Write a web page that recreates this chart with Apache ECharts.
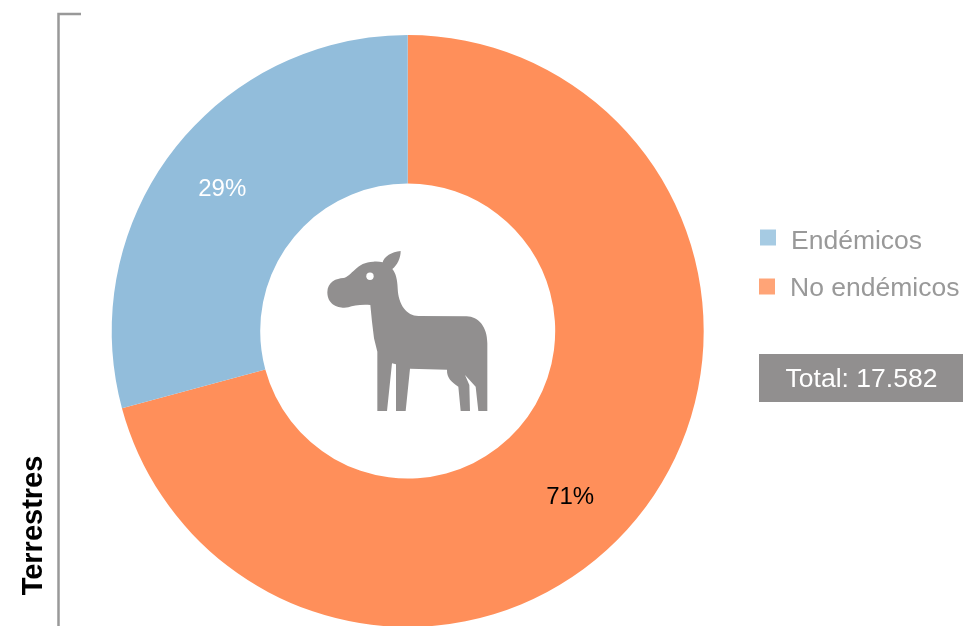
<!DOCTYPE html>
<html>
<head>
<meta charset="utf-8">
<style>html,body{margin:0;padding:0;background:#fff}#c{width:963px;height:626px}</style>
<script src="https://cdn.jsdelivr.net/npm/echarts@6/dist/echarts.min.js"></script>
</head>
<body>
<div id="c"></div>
<script>
const categories = ['No endémicos', 'Endémicos'];
const values = [70.8, 29.2];
const sliceColors = ['#ff8f5a', '#92bddb'];
const swatchColors = ['#ffa477', '#a6cbe3'];
const labelColors = ['#000000', '#ffffff'];
const labelShift = [[-16, 30], [-7, -5]];
const groupTitle = 'Terrestres';
const totalText = 'Total: 17.582';
const font = '"Liberation Sans", Arial, sans-serif';
const horse = 'M202 528L202 350L192 310L186 260L181 210C150 208 130 212 115 217C95 222 52 215 52 172C52 140 80 130 100 129C125 125 140 80 190 80C200 79 210 80 218 82C222 65 245 50 272 48C272 70 262 90 247 102C258 115 262 135 263 160C265 210 290 243 325 243L470 244C505 245 532 275 532 325L532 528L505 528L497 455L465 420L478 450L480 528L452 528L445 455C425 440 410 430 411 404L300 401L287 528L258 528L258 388L246 385L231 528Z';

echarts.graphic.registerShape('horse', echarts.graphic.extendPath(horse, {}));

const chart = echarts.init(document.getElementById('c'), null, {renderer: 'canvas'});
const legendAt = (i, left, top, pad) => ({
  left, top, padding: 0, orient: 'vertical', icon: 'rect', itemWidth: 16, itemHeight: 16, itemGap: 0,
  selectedMode: false,
  formatter: n => '{t|' + n + '}',
  textStyle: {
    rich: {t: {fontFamily: font, fontSize: 26.5, color: '#999999', padding: [pad, 0, 0, 10]}}
  },
  data: [{name: categories[i], itemStyle: {color: swatchColors[i]}}]
});
chart.setOption({
  animation: false,
  backgroundColor: '#ffffff',
  legend: [legendAt(1, 760, 228, 8), legendAt(0, 759, 275, 4)],
  series: [{
    type: 'pie',
    center: [407.7, 331],
    radius: [147.5, 296],
    startAngle: 90,
    clockwise: true,
    silent: true,
    label: {position: 'inside', formatter: '{d}%', fontFamily: font, fontSize: 24},
    labelLine: {show: false},
    percentPrecision: 0,
    labelLayout: p => ({dx: labelShift[p.dataIndex][0], dy: labelShift[p.dataIndex][1]}),
    data: categories.map((name, i) => ({
      name, value: values[i],
      itemStyle: {color: sliceColors[i]},
      label: {color: labelColors[i]}
    }))
  }],
  graphic: [
    {type: 'polyline', silent: true, shape: {points: [[81, 14], [58.5, 14], [58.5, 626]]},
     style: {stroke: '#999999', lineWidth: 2.5, fill: null}},
    {type: 'text', silent: true, x: 33.5, y: 525.5, rotation: Math.PI / 2,
     style: {text: groupTitle, font: 'bold 29px ' + font, fill: '#000000', align: 'center', verticalAlign: 'middle'}},
    {type: 'horse', silent: true, x: 310, y: 235, scaleX: 1 / 3, scaleY: 1 / 3, style: {fill: '#918f8f'}},
    {type: 'circle', silent: true, shape: {cx: 370, cy: 276.3, r: 3.7}, style: {fill: '#ffffff'}},
    {type: 'rect', silent: true, shape: {x: 759, y: 354, width: 204, height: 48}, style: {fill: '#918f8f'}},
    {type: 'text', silent: true, x: 861.5, y: 380,
     style: {text: totalText, font: '26.5px ' + font, fill: '#ffffff', align: 'center', verticalAlign: 'middle'}}
  ]
});
</script>
</body>
</html>
